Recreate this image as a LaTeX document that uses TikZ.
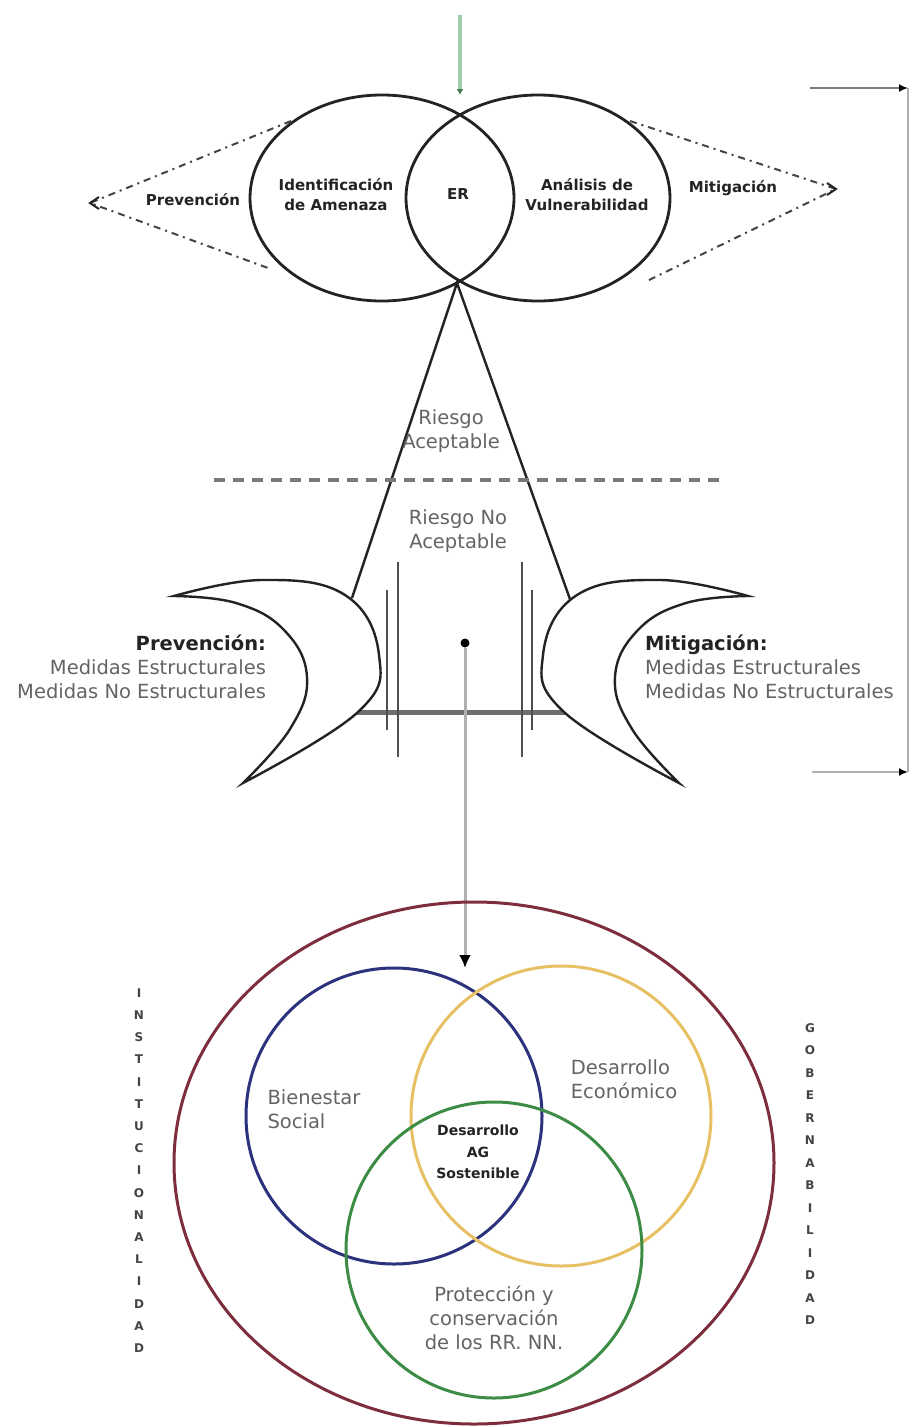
\documentclass[tikz,border=0pt]{standalone}
\usepackage{fontspec}
\setmainfont{DejaVu Sans}
\usetikzlibrary{arrows.meta}
\definecolor{ink}{RGB}{35,35,35}
\definecolor{txt}{RGB}{100,100,100}
\definecolor{rimred}{RGB}{125,45,60}
\definecolor{navy}{RGB}{45,50,125}
\definecolor{gold}{RGB}{232,192,100}
\definecolor{leaf}{RGB}{60,140,70}
\definecolor{sprout}{RGB}{160,205,170}
\definecolor{sproutdark}{RGB}{70,120,85}
\definecolor{bar}{RGB}{110,110,110}
\definecolor{guide}{RGB}{175,175,175}

\begin{document}
\begin{tikzpicture}[x=1pt,y=-1pt,
  every node/.style={inner sep=0pt, outer sep=0pt},
  boldlbl/.style={font=\fontsize{15}{20}\selectfont\bfseries, text=ink, align=center},
  bodytxt/.style={font=\fontsize{19.5}{24}\selectfont, text=txt},
  sidelet/.style={font=\fontsize{12}{12}\selectfont\bfseries, text=ink!85},
  ring/.style={line width=2.8pt, draw=ink},
  link/.style={line width=2.4pt, draw=ink},
  dashlink/.style={line width=2pt, draw=ink!85, dash pattern=on 7pt off 5pt on 2pt off 5pt},
  thin/.style={line width=1.2pt, draw=ink!80},
  venn/.style={line width=3pt},
]
\useasboundingbox (0,0) rectangle (913,1427);
\fill[white] (0,0) rectangle (913,1427);

% ---- evaluation of risk: two overlapping ellipses ----
\coordinate (ERtop) at (460,116);
\coordinate (ERbot) at (457,283);
\coordinate (feed) at (460,15);
\coordinate (feedEnd) at (460,95);
\draw[sprout, line width=4.5pt, -{Latex[length=6pt,width=7pt,sproutdark]}] (feed) -- (feedEnd);

\draw[ring] (382,198) ellipse [x radius=132, y radius=103];
\draw[ring] (538,198) ellipse [x radius=132, y radius=103];

\node[boldlbl] (amenaza) at (336,195) {Identificación\\de Amenaza};
\node[boldlbl] (er) at (458,194) {ER};
\node[boldlbl] (vulner) at (587,195) {Análisis de\\Vulnerabilidad};
\node[boldlbl] (prevTop) at (193,200) {Prevención};
\node[boldlbl] (mitTop) at (733,188) {Mitigación};

% dash-dot wings
\coordinate (pvA) at (291,121);
\coordinate (pvB) at (268,268);
\coordinate (pvTip) at (90,203);
\draw[dashlink] (pvA) -- (pvTip) -- (pvB);
\draw[line width=2pt, ink] ([shift={(9,-6)}]pvTip) -- (pvTip) -- ([shift={(9,6)}]pvTip);

\coordinate (mtA) at (630,121);
\coordinate (mtB) at (645,282);
\coordinate (mtTip) at (836,189);
\draw[dashlink] (mtA) -- (mtTip) -- (mtB);
\draw[line width=2pt, ink] ([shift={(-9,-6)}]mtTip) -- (mtTip) -- ([shift={(-9,6)}]mtTip);

% ---- acceptable / non acceptable risk ----
\coordinate (triL) at (352,598);
\coordinate (triR) at (571,602);
\draw[link] (triL) -- (ERbot) -- (triR);

\coordinate (divL) at (214,480);
\coordinate (divR) at (720,480);
\draw[guide!70!black, line width=4pt, dash pattern=on 11pt off 8pt] (divL) -- (divR);

\node[bodytxt, align=center] (acep) at (451,431) {Riesgo\\Aceptable};
\node[bodytxt, align=center] (noacep) at (458,531) {Riesgo No\\Aceptable};

% base bar and guide lines
\coordinate (barL) at (356,712);
\coordinate (barR) at (566,712);
\draw[bar, line width=5pt] (barL) -- (barR);
\draw[thin] (387,590) -- (387,730);
\draw[thin] (398,562) -- (398,757);
\draw[thin] (522,562) -- (522,757);
\draw[thin] (532,590) -- (532,730);

% crescents
\draw[link, fill=white] plot[smooth, tension=0.7] coordinates {(174,596) (262,580) (345,595) (379,655) (358,712) (243,783)}
  -- plot[smooth, tension=0.7] coordinates {(243,783) (290,729) (307,677) (284,630) (236,603) (174,596)} -- cycle;
\draw[link, fill=white] plot[smooth, tension=0.7] coordinates {(748,596) (660,580) (577,595) (543,655) (564,712) (679,783)}
  -- plot[smooth, tension=0.7] coordinates {(679,783) (632,729) (615,677) (638,630) (686,603) (748,596)} -- cycle;

\node[bodytxt, anchor=east, align=right] (prevBlk) at (266,667)
  {{\bfseries\color{ink}Prevención:}\\
   Medidas Estructurales\\
   Medidas No Estructurales};
\node[bodytxt, anchor=west, align=left] (mitBlk) at (645,667)
  {{\bfseries\color{ink}Mitigación:}\\
   Medidas Estructurales\\
   Medidas No Estructurales};

% descent to the sustainable development model
\node[circle, fill=black, minimum size=9pt] (dot) at (465,643) {};
\coordinate (arrowEnd) at (465,968);
\draw[guide, line width=3pt, -{Latex[length=13pt,width=12pt,black]}] (dot) -- (arrowEnd);

% right bracket
\coordinate (brTopIn) at (810,88);
\coordinate (brTop) at (908,88);
\coordinate (brBot) at (908,772);
\coordinate (brBotIn) at (812,772);
\draw[guide, line width=2pt] (brTop) -- (brBot);
\draw[guide!70!black, line width=1.8pt, -{Latex[length=9pt,width=8pt,black]}] (brTopIn) -- (brTop);
\draw[guide, line width=1.8pt, -{Latex[length=9pt,width=8pt,black]}] (brBotIn) -- (brBot);

% ---- sustainable development ----
\draw[rimred, line width=3pt] (474,1163) ellipse [x radius=300, y radius=261];
\draw[venn, navy] (394,1116) circle [radius=148];
\draw[venn, gold] (561,1116) circle [radius=150];
\draw[venn, leaf] (494,1250) circle [radius=148];

\node[bodytxt, align=left] (bien) at (314,1109) {Bienestar\\Social};
\node[bodytxt, align=left] (econ) at (624,1079) {Desarrollo\\Económico};
\node[font=\fontsize{14}{21.5}\selectfont\bfseries, text=ink, align=center] (sost) at (478,1152) {Desarrollo\\AG\\Sostenible};
\node[bodytxt, align=center] (prot) at (494,1318) {Protección y\\conservación\\de los RR. NN.};

\foreach \ch [count=\i from 0] in {I,N,S,T,I,T,U,C,I,O,N,A,L,I,D,A,D}
  \node[sidelet] (inst\i) at ({139},{993+22.2*\i}) {\ch};
\foreach \ch [count=\i from 0] in {G,O,B,E,R,N,A,B,I,L,I,D,A,D}
  \node[sidelet] (gob\i) at ({810},{1028+22.5*\i}) {\ch};
\end{tikzpicture}
\end{document}
